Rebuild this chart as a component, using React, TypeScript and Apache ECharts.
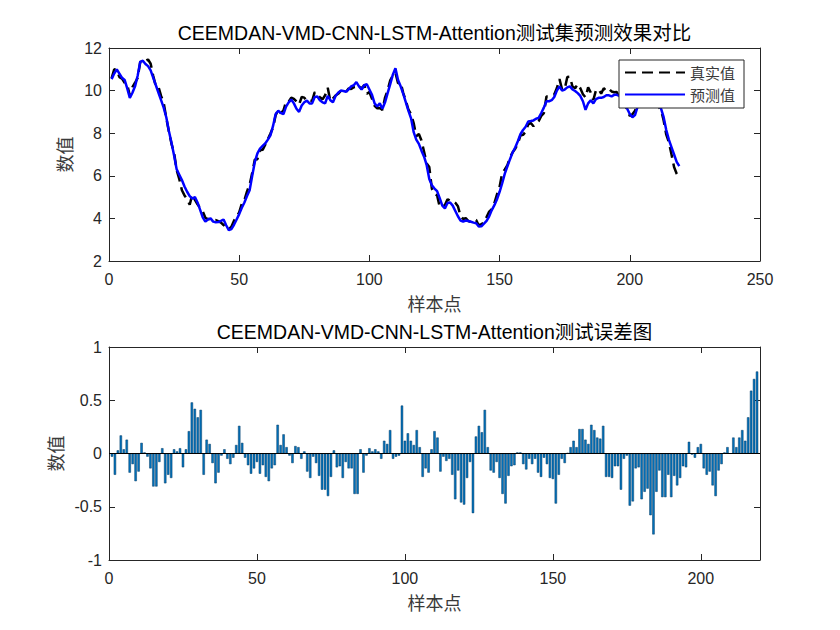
import React, { useEffect, useRef } from "react";
import * as echarts from "echarts";

const titleTop = "CEEMDAN-VMD-CNN-LSTM-Attention测试集预测效果对比";
const titleBottom = "CEEMDAN-VMD-CNN-LSTM-Attention测试误差图";
const legendNames = ["真实值", "预测值"];
const xName = "样本点";
const yName = "数值";

const trueVals = [
  10.57, 11.0, 10.97, 10.63, 10.56, 10.37, 10.28, 9.76, 10.16, 10.37,
  10.6, 11.34, 11.43, 11.39, 11.46, 11.26, 10.68, 10.2, 10.18, 9.75,
  9.43, 8.71, 8.08, 7.5, 7.08, 6.26, 5.84, 5.32, 5.08, 4.91,
  4.64, 5.13, 4.87, 4.66, 4.49, 4.33, 4.03, 3.97, 3.96, 3.9,
  3.92, 3.87, 3.8, 3.69, 3.58, 3.49, 3.61, 3.89, 4.09, 4.28,
  4.69, 4.86, 5.27, 5.58, 6.14, 6.76, 6.78, 7.2, 7.22, 7.46,
  7.72, 7.99, 8.27, 8.84, 9.1, 8.93, 9.07, 9.48, 9.48, 9.67,
  9.61, 9.49, 9.34, 9.7, 9.67, 9.5, 9.53, 9.52, 9.93, 9.8,
  9.69, 9.59, 9.78, 10.13, 9.51, 9.63, 9.77, 9.85, 9.98, 9.94,
  9.93, 10.1, 10.08, 10.16, 10.18, 10.25, 10.08, 10.27, 9.85, 9.93,
  9.61, 9.28, 9.17, 9.18, 9.09, 9.67, 10.02, 10.48, 10.71, 10.84,
  10.35, 10.37, 9.88, 9.52, 9.1, 8.9, 8.48, 7.86, 7.96, 7.66,
  7.13, 6.58, 6.41, 5.39, 5.14, 5.08, 4.54, 4.54, 4.63, 4.9,
  4.83, 4.83, 4.73, 4.57, 4.11, 3.97, 4.01, 3.87, 3.83, 3.9,
  3.92, 3.67, 3.73, 3.8, 4.06, 4.32, 4.43, 4.72, 5.13, 5.49,
  6.12, 6.3, 6.5, 6.87, 7.1, 7.27, 7.5, 7.89, 7.92, 8.07,
  8.42, 8.48, 8.33, 8.46, 8.57, 8.81, 8.94, 9.72, 9.72, 9.78,
  9.82, 10.12, 10.54, 10.05, 10.07, 10.64, 10.65, 10.19, 10.11, 10.31,
  10.11, 9.83, 9.68, 10.16, 9.91, 9.56, 10.01, 10.07, 9.86, 10.11,
  9.99, 10.08, 9.96, 9.92, 9.93, 9.64, 9.61, 9.39, 9.09, 8.81,
  8.89, 9.05, 9.42, 9.9, 10.15, 9.96, 9.85, 9.69, 9.59, 9.55,
  9.25, 9.09, 8.6, 7.93, 7.58, 7.01, 6.41, 6.1, 5.9,
];

const predVals = [
  10.54, 10.8, 11.0, 10.8, 10.6, 10.5, 10.1, 9.66, 9.9, 10.2,
  10.7, 11.35, 11.4, 11.25, 11.15, 10.95, 10.6, 10.25, 9.9, 9.55,
  9.2, 8.75, 8.1, 7.55, 6.95, 6.3, 6.05, 5.8, 5.5, 5.25,
  5.05, 4.93, 5.0, 4.75, 4.4, 4.05, 3.85, 3.95, 4.0, 3.85,
  3.82, 3.83, 3.88, 3.95, 3.68, 3.45, 3.5, 3.7, 3.95, 4.2,
  4.5, 4.75, 5.05, 5.32, 6.0, 6.65, 7.05, 7.28, 7.4, 7.52,
  7.7, 7.9, 8.34, 8.9, 9.05, 8.95, 8.9, 9.25, 9.45, 9.58,
  9.4, 9.15, 9.0, 9.3, 9.45, 9.53, 9.4, 9.4, 9.7, 9.72,
  9.55, 9.45, 9.4, 9.75, 9.55, 9.45, 9.75, 9.9, 10.0, 9.98,
  9.95, 10.05, 10.2, 10.25, 10.4, 10.2, 10.05, 10.25, 10.3, 10.05,
  9.8, 9.4, 9.25, 9.4, 9.15, 9.45, 9.88, 10.3, 10.75, 11.05,
  10.5, 10.2, 9.85, 9.45, 9.05, 8.7, 8.05, 7.7, 7.5, 7.18,
  6.9, 6.5, 5.85, 5.55, 5.4, 5.28, 4.95, 4.6, 4.47, 4.72,
  4.75, 4.6, 4.35, 4.1, 3.9, 3.85, 3.9, 3.88, 3.84, 3.8,
  3.77, 3.62, 3.63, 3.75, 3.88, 4.1, 4.39, 4.62, 4.9, 5.25,
  5.65, 6.1, 6.45, 6.78, 7.1, 7.33, 7.62, 7.95, 8.15, 8.3,
  8.55, 8.57, 8.6, 8.68, 8.72, 8.95, 9.2, 9.5, 9.5, 9.55,
  9.7, 10.0, 10.2, 10.0, 10.05, 10.15, 10.2, 10.05, 9.98, 9.88,
  9.75, 9.5, 9.1, 9.4, 9.55, 9.4, 9.6, 9.66, 9.66, 9.7,
  9.78, 9.78, 9.73, 9.8, 9.8, 9.75, 9.6, 9.35, 9.15, 8.9,
  8.75, 8.85, 9.25, 9.6, 9.75, 9.8, 9.75, 9.7, 9.65, 9.55,
  9.4, 9.15, 8.75, 8.15, 7.7, 7.35, 7.0, 6.65, 6.45,
];

const errVals = [
  -0.03, -0.2, 0.03, 0.17, 0.04, 0.13, -0.18, -0.1, -0.26, -0.17,
  0.1, 0.01, -0.03, -0.14, -0.31, -0.31, -0.08, 0.05, -0.28, -0.2,
  -0.23, 0.04, 0.02, 0.05, -0.13, 0.04, 0.21, 0.48, 0.42, 0.34,
  0.41, -0.2, 0.13, 0.09, -0.09, -0.28, -0.18, -0.02, 0.04, -0.05,
  -0.1, -0.04, 0.08, 0.26, 0.1, -0.04, -0.11, -0.19, -0.14, -0.08,
  -0.19, -0.11, -0.22, -0.26, -0.14, -0.11, 0.27, 0.08, 0.18, 0.06,
  -0.02, -0.09, 0.07, 0.06, -0.05, 0.02, -0.17, -0.23, -0.03, -0.09,
  -0.21, -0.34, -0.34, -0.4, -0.22, 0.03, -0.13, -0.12, -0.23, -0.08,
  -0.14, -0.14, -0.38, -0.38, 0.04, -0.18, -0.02, 0.05, 0.02, 0.04,
  0.02, -0.05, 0.12, 0.09, 0.22, -0.05, -0.03, -0.02, 0.45, 0.12,
  0.19, 0.12, 0.08, 0.22, 0.06, -0.22, -0.14, -0.18, 0.04, 0.21,
  0.15, -0.17, -0.03, -0.07, -0.05, -0.2, -0.43, -0.16, -0.46, -0.48,
  -0.23, -0.08, -0.56, 0.16, 0.26, 0.2, 0.41, 0.06, -0.16, -0.18,
  -0.08, -0.23, -0.38, -0.47, -0.21, -0.12, -0.11, 0.01, 0.01, -0.1,
  -0.15, -0.05, -0.1, -0.05, -0.18, -0.22, -0.04, -0.1, -0.23, -0.24,
  -0.47, -0.2, -0.05, -0.09, 0.005, 0.06, 0.12, 0.06, 0.23, 0.23,
  0.13, 0.09, 0.27, 0.22, 0.15, 0.14, 0.26, -0.22, -0.22, -0.23,
  -0.12, -0.12, -0.34, -0.05, -0.02, -0.49, -0.45, -0.14, -0.13, -0.43,
  -0.36, -0.33, -0.58, -0.76, -0.36, -0.16, -0.41, -0.41, -0.2, -0.41,
  -0.21, -0.3, -0.23, -0.12, -0.13, 0.11, -0.01, -0.04, 0.06, 0.09,
  -0.14, -0.2, -0.17, -0.3, -0.4, -0.16, -0.1, 0.01, 0.06, 0.0,
  0.15, 0.06, 0.15, 0.22, 0.12, 0.34, 0.59, 0.7, 0.77,
];

const LATIN = "'Liberation Sans', Arial, 'Noto Sans CJK SC', sans-serif";
const CJK = "'Noto Sans CJK SC', sans-serif";
const AX = "#262626";

function xAxisCfg(gridIndex: number, max: number, position: "bottom" | "top", labels: boolean) {
  return {
    gridIndex,
    type: "value",
    min: 0,
    max,
    interval: 50,
    position,
    axisLine: { show: true, onZero: false, lineStyle: { color: AX, width: 1 } },
    axisTick: { show: true, inside: true, length: 6, lineStyle: { color: AX, width: 1 } },
    axisLabel: {
      show: labels,
      margin: 10,
      fontSize: 16,
      color: AX,
      fontFamily: LATIN,
      formatter: (v: number) => (v === 220 ? "" : String(v)),
    },
    splitLine: { show: false },
    name: labels ? xName : "",
    nameLocation: "middle",
    nameGap: 33,
    nameTextStyle: { fontSize: 18, color: "#3a3a3a", fontFamily: CJK },
  };
}

function yAxisCfg(gridIndex: number, min: number, max: number, interval: number, position: "left" | "right", labels: boolean) {
  return {
    gridIndex,
    type: "value",
    min,
    max,
    interval,
    position,
    axisLine: { show: true, onZero: false, lineStyle: { color: AX, width: 1 } },
    axisTick: { show: true, inside: true, length: 6, lineStyle: { color: AX, width: 1 } },
    axisLabel: { show: labels, margin: 7, fontSize: 16, color: AX, fontFamily: LATIN },
    splitLine: { show: false },
    name: labels ? yName : "",
    nameLocation: "middle",
    nameGap: 34,
    nameRotate: 90,
    nameTextStyle: { fontSize: 18, color: "#3a3a3a", fontFamily: CJK },
  };
}

export default function App() {
  const ref = useRef<HTMLDivElement>(null);
  useEffect(() => {
    if (!ref.current) return;
    const chart = echarts.init(ref.current, undefined, { renderer: "svg", width: 840, height: 630 });
    chart.setOption({
      animation: false,
      backgroundColor: "#ffffff",
      grid: [
        { left: 109, top: 48, width: 651, height: 213 },
        { left: 109, top: 347, width: 651, height: 213 },
      ],
      xAxis: [
        xAxisCfg(0, 250, "bottom", true),
        xAxisCfg(0, 250, "top", false),
        xAxisCfg(1, 220, "bottom", true),
        xAxisCfg(1, 220, "top", false),
      ],
      yAxis: [
        yAxisCfg(0, 2, 12, 2, "left", true),
        yAxisCfg(0, 2, 12, 2, "right", false),
        yAxisCfg(1, -1, 1, 0.5, "left", true),
        yAxisCfg(1, -1, 1, 0.5, "right", false),
      ],
      legend: {
        data: legendNames,
        orient: "vertical",
        left: 619,
        top: 60,
        padding: [5, 9, 6, 5],
        itemGap: 7,
        itemWidth: 60,
        itemHeight: 14,
        itemStyle: { opacity: 0 },
        backgroundColor: "#ffffff",
        borderColor: AX,
        borderWidth: 1,
        borderRadius: 0,
        textStyle: { fontSize: 15, color: "#3a3a3a", fontFamily: CJK },
        z: 10,
      },
      graphic: [
        {
          type: "text",
          x: 434.5,
          y: 33,
          style: {
            text: titleTop,
            align: "center",
            verticalAlign: "middle",
            textAlign: "center",
            textVerticalAlign: "middle",
            fontSize: 19.5,
            fontFamily: LATIN,
            fill: "#000000",
          },
        },
        {
          type: "text",
          x: 434.5,
          y: 332,
          style: {
            text: titleBottom,
            align: "center",
            verticalAlign: "middle",
            textAlign: "center",
            textVerticalAlign: "middle",
            fontSize: 19.5,
            fontFamily: LATIN,
            fill: "#000000",
          },
        },
      ],
      series: [
        {
          name: legendNames[0],
          type: "line",
          xAxisIndex: 0,
          yAxisIndex: 0,
          data: trueVals.map((v, i) => [i + 1, v]),
          symbol: "none",
          lineStyle: { color: "#000000", width: 2.5, type: [11, 6] },
          itemStyle: { color: "#000000" },
          z: 2,
        },
        {
          name: legendNames[1],
          type: "line",
          xAxisIndex: 0,
          yAxisIndex: 0,
          data: predVals.map((v, i) => [i + 1, v]),
          symbol: "none",
          lineStyle: { color: "#0000ff", width: 2.5 },
          itemStyle: { color: "#0000ff" },
          z: 3,
        },
        {
          type: "bar",
          xAxisIndex: 2,
          yAxisIndex: 2,
          data: errVals.map((v, i) => [i + 1, v]),
          barWidth: 2.4,
          itemStyle: { color: "#0072bd", borderColor: "#063a63", borderWidth: 0.5 },
          markLine: {
            silent: true,
            symbol: ["none", "none"],
            label: { show: false },
            lineStyle: { color: "#000000", width: 1, type: "solid" },
            data: [{ yAxis: 0 }],
          },
        },
      ],
    });
    return () => chart.dispose();
  }, []);
  return (
    <div
      ref={ref}
      style={{ position: "fixed", left: 0, top: 0, width: 840, height: 630, background: "#fff" }}
    />
  );
}
